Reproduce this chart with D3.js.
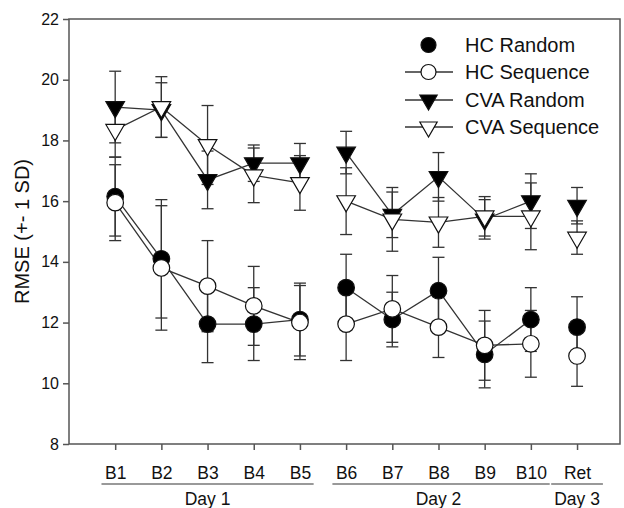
<!DOCTYPE html>
<html>
<head>
<meta charset="utf-8">
<script src="https://cdn.jsdelivr.net/npm/d3@7"></script>
<style>
  body { margin: 0; background: #fff; }
  svg text { font-family: "Liberation Sans", Arial, sans-serif; fill: #111; }
</style>
</head>
<body>
<div id="chart"></div>
<script>
// blocks and the day each belongs to
const categories = ["B1", "B2", "B3", "B4", "B5", "B6", "B7", "B8", "B9", "B10", "Ret"];
const dayLabels = ["Day 1", "Day 2", "Day 3"];
const dayOfBlock = [0, 0, 0, 0, 0, 1, 1, 1, 1, 1, 2];
const yTicks = [8, 10, 12, 14, 16, 18, 20, 22];

// means and SD
const hcRandomMean = [16.15, 14.1, 11.95, 11.95, 12.1, 13.15, 12.1, 13.05, 10.95, 12.1, 11.85];
const hcRandomSD = [1.3, 1.95, 1.27, 1.2, 1.2, 1.1, 0.9, 1.1, 1.1, 1.05, 1.0];
const hcSeqMean = [15.95, 13.8, 13.2, 12.55, 12.0, 11.95, 12.45, 11.85, 11.25, 11.3, 10.9];
const hcSeqSD = [1.25, 2.05, 1.5, 1.3, 1.22, 1.2, 1.1, 1.0, 1.15, 1.1, 1.0];
const cvaRandomMean = [19.1, 19.0, 16.7, 17.25, 17.25, 17.6, 15.55, 16.8, 15.4, 16.0, 15.85];
const cvaRandomSD = [1.18, 0.9, 0.95, 0.6, 0.65, 0.7, 0.75, 0.8, 0.65, 0.9, 0.6];
const cvaSeqMean = [18.35, 19.1, 17.85, 16.85, 16.6, 16.0, 15.4, 15.3, 15.5, 15.5, 14.8];
const cvaSeqSD = [0.9, 1.0, 1.3, 0.9, 0.9, 1.1, 1.05, 0.82, 0.65, 1.1, 0.55];

const series = [
    {name: "HC Random", mean: hcRandomMean, sd: hcRandomSD, shape: "circle", fill: "#000", legendLine: false},
    {name: "HC Sequence", mean: hcSeqMean, sd: hcSeqSD, shape: "circle", fill: "#fff", legendLine: true},
    {name: "CVA Random", mean: cvaRandomMean, sd: cvaRandomSD, shape: "triangle", fill: "#000", legendLine: true},
    {name: "CVA Sequence", mean: cvaSeqMean, sd: cvaSeqSD, shape: "triangle", fill: "#fff", legendLine: true}
];

const W = 624, H = 508;
const frame = {left: 69, right: 620, top: 19, bottom: 444};
const ink = "#333";

const svg = d3.select("#chart").append("svg")
    .attr("width", W)
    .attr("height", H);

const xScale = d3.scaleLinear().domain([0, 11.93]).range([frame.left, frame.right]);
const yScale = d3.scaleLinear().domain([8, 22]).range([frame.bottom, frame.top]);

// frame
svg.append("rect")
    .attr("x", frame.left).attr("y", frame.top)
    .attr("width", frame.right - frame.left)
    .attr("height", frame.bottom - frame.top)
    .attr("fill", "none").attr("stroke", "#555").attr("stroke-width", 1.5);

// y axis
const yAxisG = svg.append("g")
    .attr("transform", "translate(" + frame.left + ",0)")
    .call(d3.axisLeft(yScale).tickValues(yTicks).tickSize(6).tickPadding(4));
yAxisG.select(".domain").remove();
yAxisG.selectAll("line").attr("stroke", "#555").attr("stroke-width", 1.5);
yAxisG.selectAll("text").attr("font-size", 16).attr("fill", "#111")
    .style("font-family", "'Liberation Sans', Arial, sans-serif");

// x axis
const xAxisG = svg.append("g")
    .attr("transform", "translate(0," + frame.bottom + ")")
    .call(d3.axisBottom(xScale)
        .tickValues(d3.range(1, categories.length + 1))
        .tickFormat(d => categories[d - 1])
        .tickSize(6).tickPadding(17));
xAxisG.select(".domain").remove();
xAxisG.selectAll("line").attr("stroke", "#555").attr("stroke-width", 1.5);
xAxisG.selectAll("text").attr("font-size", 17.5).attr("fill", "#111")
    .style("font-family", "'Liberation Sans', Arial, sans-serif");

// day groups: underline + label
const tickTexts = xAxisG.selectAll(".tick text").nodes();
dayLabels.forEach((label, di) => {
    const idx = d3.range(categories.length).filter(i => dayOfBlock[i] === di);
    const cx = (xScale(idx[0] + 1) + xScale(idx[idx.length - 1] + 1)) / 2;
    const t = svg.append("text")
        .attr("x", cx).attr("y", 505)
        .attr("text-anchor", "middle")
        .attr("font-size", 17.5)
        .text(label);
    const tb = t.node().getBBox();
    let x0 = tb.x, x1 = tb.x + tb.width;
    idx.forEach(i => {
        const b = tickTexts[i].getBBox();
        const left = xScale(i + 1) + b.x;
        x0 = Math.min(x0, left);
        x1 = Math.max(x1, left + b.width);
    });
    svg.append("line")
        .attr("x1", x0 - 3).attr("x2", x1 + 3)
        .attr("y1", 484).attr("y2", 484)
        .attr("stroke", "#777").attr("stroke-width", 1.5);
});

// y label
svg.append("text")
    .attr("transform", "translate(29," + ((frame.top + frame.bottom) / 2) + ") rotate(-90)")
    .attr("text-anchor", "middle")
    .attr("font-size", 20)
    .text("RMSE (+- 1 SD)");

const circleSym = d3.symbol().type(d3.symbolCircle).size(Math.PI * 8.3 * 8.3);
const triSym = d3.symbol().type(d3.symbolTriangle).size(150);

function markerPath(shape) {
    return shape === "circle" ? circleSym() : triSym();
}

// error bars for every series
const capW = 6;
const errG = svg.append("g").attr("stroke", ink).attr("stroke-width", 1.3);
series.forEach(s => {
    s.mean.forEach((m, i) => {
        const x = xScale(i + 1);
        const yHi = yScale(m + s.sd[i]);
        const yLo = yScale(m - s.sd[i]);
        errG.append("line").attr("x1", x).attr("x2", x).attr("y1", yHi).attr("y2", yLo);
        errG.append("line").attr("x1", x - capW).attr("x2", x + capW).attr("y1", yHi).attr("y2", yHi);
        errG.append("line").attr("x1", x - capW).attr("x2", x + capW).attr("y1", yLo).attr("y2", yLo);
    });
});

// connecting lines, broken between days
const line = d3.line()
    .x(d => xScale(d.i + 1))
    .y(d => yScale(d.v));
series.forEach(s => {
    dayLabels.forEach((_, di) => {
        const pts = s.mean.map((v, i) => ({v, i})).filter(d => dayOfBlock[d.i] === di);
        if (pts.length < 2) return;
        svg.append("path")
            .attr("d", line(pts))
            .attr("fill", "none")
            .attr("stroke", ink)
            .attr("stroke-width", 1.3);
    });
});

// markers
series.forEach(s => {
    svg.append("g").selectAll("path")
        .data(s.mean)
        .join("path")
        .attr("d", markerPath(s.shape))
        .attr("transform", (d, i) => "translate(" + xScale(i + 1) + "," + yScale(d) + ")" +
            (s.shape === "triangle" ? " rotate(180)" : ""))
        .attr("fill", s.fill)
        .attr("stroke", "#111")
        .attr("stroke-width", 1.2);
});

// legend
const legend = svg.append("g");
const legendRowY = [45, 72, 100, 127];
series.forEach((s, k) => {
    const g = legend.append("g").attr("transform", "translate(0," + legendRowY[k] + ")");
    if (s.legendLine) {
        g.append("line").attr("x1", 405).attr("x2", 453).attr("y1", 0).attr("y2", 0)
            .attr("stroke", ink).attr("stroke-width", 1.3);
    }
    g.append("path")
        .attr("d", s.shape === "circle"
            ? d3.symbol().type(d3.symbolCircle).size(Math.PI * 7.5 * 7.5)()
            : d3.symbol().type(d3.symbolTriangle).size(130)())
        .attr("transform", "translate(428.5,0)" + (s.shape === "triangle" ? " rotate(180)" : ""))
        .attr("fill", s.fill)
        .attr("stroke", "#111")
        .attr("stroke-width", 1.2);
    g.append("text")
        .attr("x", 465).attr("y", 7)
        .attr("font-size", 20)
        .text(s.name);
});
</script>
</body>
</html>
